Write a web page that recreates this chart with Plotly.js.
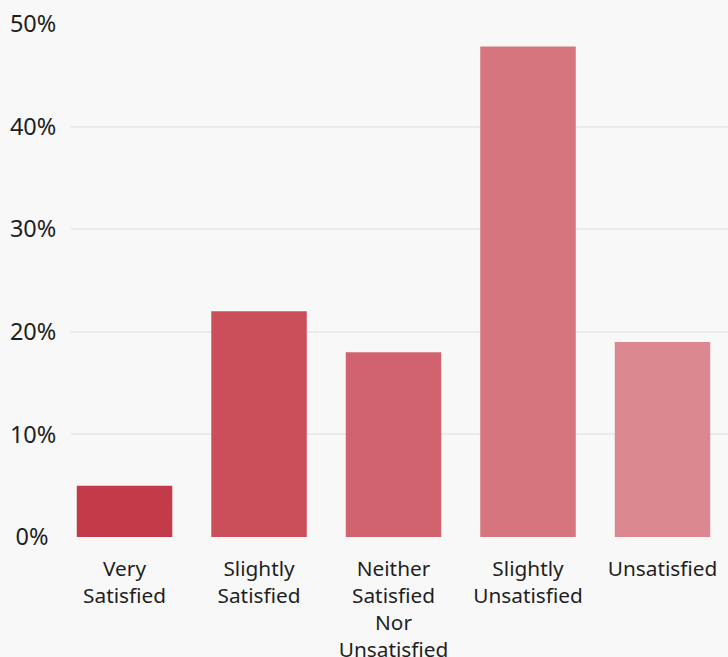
<!DOCTYPE html>
<html>
<head>
<meta charset="utf-8">
<script src="https://cdn.plot.ly/plotly-3.0.1.min.js"></script>
<style>
  html, body { margin: 0; padding: 0; background: #f8f8f8; }
  #chart { width: 728px; height: 657px; }
</style>
</head>
<body>
<div id="chart"></div>
<script>
// Satisfaction survey responses (% of respondents)
const categories = ["Very<br>Satisfied", "Slightly<br>Satisfied", "Neither<br>Satisfied<br>Nor<br>Unsatisfied", "Slightly<br>Unsatisfied", "Unsatisfied"];
const shares = [5, 22, 18, 47.8, 19];
const barColors = ["#c33a48", "#cb4f5b", "#d1636e", "#d6757e", "#dc8890"];
const yTickValues = [0, 10, 20, 30, 40, 50];
const yTickLabels = ["0%\u2009\u2009", "10%", "20%", "30%", "40%", "50%"];

const trace = {
  type: "bar",
  x: categories,
  y: shares,
  width: 0.71,
  marker: { color: barColors },
  hoverinfo: "x+y"
};

const layout = {
  width: 728,
  height: 657,
  margin: { l: 71, r: 0, t: 24, b: 120 },
  paper_bgcolor: "#f8f8f8",
  plot_bgcolor: "#f8f8f8",
  font: { family: "Noto Sans, Open Sans, sans-serif", size: 20.8, color: "#1f1f1f" },
  showlegend: false,
  xaxis: {
    type: "category",
    range: [-0.398, 4.487],
    showgrid: false,
    zeroline: false,
    showline: false,
    ticks: "outside",
    ticklen: 13,
    tickcolor: "rgba(0,0,0,0)",
    tickfont: { size: 20.8, color: "#1f1f1f" }
  },
  yaxis: {
    range: [0, 50],
    tickvals: yTickValues,
    ticktext: yTickLabels,
    showgrid: true,
    gridcolor: "#ebebeb",
    gridwidth: 2,
    zeroline: false,
    showline: false,
    ticks: "outside",
    ticklen: 9,
    tickcolor: "rgba(0,0,0,0)",
    tickfont: { size: 23.5, color: "#1f1f1f" },
    automargin: false
  }
};

Plotly.newPlot("chart", [trace], layout, { displayModeBar: false, staticPlot: true });
</script>
</body>
</html>
